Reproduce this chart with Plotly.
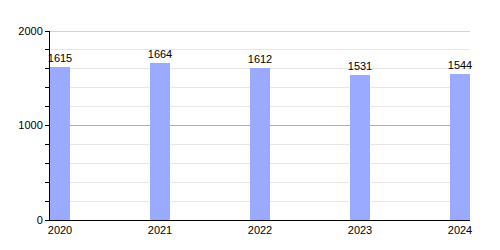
import plotly.graph_objects as go

years = [2020, 2021, 2022, 2023, 2024]
values = [1615, 1664, 1612, 1531, 1544]
year_labels = ["2020", "2021", "2022", "2023", "2024"]
y_max = 2000

fig = go.Figure()
fig.add_trace(go.Bar(
    x=years, y=values, width=0.2, offset=-0.1,
    marker=dict(color="#99aaff", line=dict(width=0)),
    text=[str(v) for v in values], textposition="outside",
    constraintext="none",
    textfont=dict(color="black", size=11, family="Liberation Sans, Arial, sans-serif"),
    cliponaxis=False,
))
fig.add_shape(type="line", xref="paper", yref="y", x0=0, x1=1, y0=y_max, y1=y_max,
              line=dict(color="#a8a8a8", width=1), layer="below")
fig.update_layout(
    width=500, height=250,
    margin=dict(l=50, r=30, t=31, b=30),
    plot_bgcolor="white", paper_bgcolor="white",
    showlegend=False,
    font=dict(family="Liberation Sans, Arial, sans-serif", size=11, color="black"),
    bargap=0,
)
fig.update_xaxes(
    range=[2019.9, 2024.1], tickvals=years, ticktext=year_labels,
    showgrid=False, showline=True, linecolor="black", linewidth=1,
    ticks="", zeroline=False, tickfont=dict(size=11),
)
fig.update_yaxes(
    range=[0, y_max], dtick=1000, tick0=0,
    showgrid=True, gridcolor="#b0b0b0", gridwidth=1,
    showline=True, linecolor="black", linewidth=1,
    ticks="outside", ticklen=4, tickcolor="black",
    zeroline=False, tickfont=dict(size=11),
    minor=dict(dtick=200, tick0=0, showgrid=True, gridcolor="#e6e6e6",
               ticks="outside", ticklen=4, tickcolor="black"),
)
fig.write_html("out.html")
